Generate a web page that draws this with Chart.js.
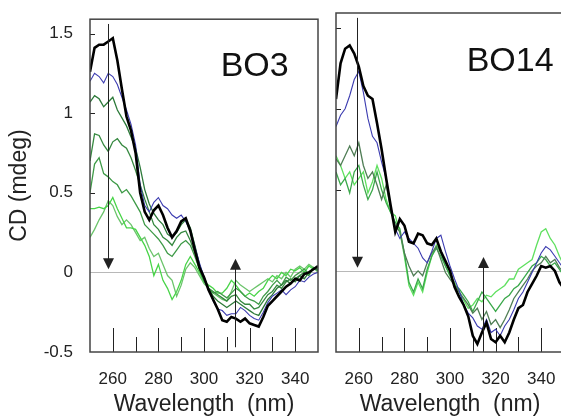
<!DOCTYPE html>
<html>
<head>
<meta charset="utf-8">
<script src="https://cdn.jsdelivr.net/npm/chart.js@4.4.1/dist/chart.umd.min.js"></script>
<style>
  html, body { margin: 0; padding: 0; background: #fff; overflow: hidden; }
  #wrap { position: relative; width: 561px; height: 419px; overflow: hidden; }
  #c1 { position: absolute; left: 0; top: 0; width: 330px; height: 419px; }
  #c2 { position: absolute; left: 326px; top: 0; width: 250px; height: 419px; }
</style>
</head>
<body>
<div id="wrap">
  <canvas id="c1" width="330" height="419"></canvas>
  <canvas id="c2" width="250" height="419"></canvas>
</div>
<script>
// wavelength axis (nm)
const wavelengths = [250,252,254,256,258,260,262,264,266,268,270,272,274,276,278,280,282,284,286,288,290,
  292,294,296,298,300,302,304,306,308,310,312,314,316,318,320,322,324,326,328,330,
  332,334,336,338,340,342,344,346,348,350];

const xTicks = [260, 280, 300, 320, 340];
const xMinorTicks = [270, 290, 310, 330];
const yTicks = [-0.5, 0, 0.5, 1, 1.5];

// BO3 panel (CD, mdeg)
const bo3Black = [1.26,1.41,1.43,1.43,1.45,1.47, 1.33,1.15,0.98,0.89,0.75, 0.5,0.38,0.33,0.39,0.42, 0.36,0.28,0.22,0.26,0.32,
  0.34,0.26,0.14,0.03,-0.03, -0.11,-0.17,-0.23,-0.3,-0.31, -0.28,-0.29,-0.31,-0.29,-0.32, -0.33,-0.34,-0.28,-0.21,-0.18,
  -0.15,-0.12,-0.09,-0.07,-0.04, -0.05,-0.01,0.0,0.02,0.04];
const bo3Blue = [1.2,1.25,1.23,1.19,1.25,1.23, 1.18,1.1,1.02,0.93,0.8, 0.55,0.42,0.38,0.44,0.47, 0.42,0.4,0.36,0.34,0.36,
  0.32,0.26,0.16,0.06,-0.03, -0.11,-0.18,-0.23,-0.24,-0.27, -0.26,-0.26,-0.22,-0.24,-0.27, -0.29,-0.3,-0.25,-0.19,-0.15,
  -0.13,-0.11,-0.14,-0.11,-0.09, -0.05,-0.06,-0.03,-0.01,0.0];
const bo3Green1 = [1.07,1.11,1.09,1.04,1.07,1.1, 1.02,0.97,0.92,0.85,0.78, 0.66,0.52,0.43,0.37,0.33, 0.3,0.24,0.22,0.25,0.3,
  0.33,0.28,0.17,0.05,-0.03, -0.1,-0.15,-0.18,-0.2,-0.22, -0.2,-0.18,-0.2,-0.22,-0.24, -0.26,-0.27,-0.22,-0.17,-0.14,
  -0.1,-0.08,-0.05,-0.07,-0.04, -0.02,-0.04,0.0,0.02,0.02];
const bo3Green2 = [0.7,0.87,0.86,0.8,0.76,0.82, 0.84,0.8,0.78,0.72,0.64, 0.55,0.46,0.38,0.3,0.27, 0.22,0.2,0.17,0.22,0.25,
  0.26,0.2,0.12,0.02,-0.05, -0.1,-0.12,-0.14,-0.16,-0.18, -0.15,-0.14,-0.18,-0.2,-0.2, -0.23,-0.22,-0.18,-0.14,-0.12,
  -0.08,-0.1,-0.06,-0.04,-0.06, -0.02,0.0,-0.02,0.03,0.01];
const bo3Green3 = [0.5,0.68,0.72,0.62,0.6,0.57, 0.55,0.5,0.52,0.48,0.43, 0.38,0.3,0.27,0.24,0.21, 0.17,0.12,0.1,0.14,0.18,
  0.2,0.17,0.1,0.02,-0.05, -0.1,-0.13,-0.12,-0.14,-0.16, -0.13,-0.1,-0.12,-0.15,-0.17, -0.18,-0.2,-0.15,-0.12,-0.08,
  -0.05,-0.08,-0.03,-0.05,-0.02, 0.0,0.02,-0.01,0.03,0.02];
const bo3Green4 = [0.4,0.4,0.41,0.4,0.42,0.47, 0.4,0.34,0.28,0.28,0.27, 0.22,0.17,0.1,-0.02,0.05, -0.05,-0.1,-0.17,-0.12,-0.05,
  0.05,0.1,0.05,0.0,-0.06, -0.08,-0.1,-0.13,-0.13,-0.1, -0.05,-0.08,-0.12,-0.15,-0.13, -0.15,-0.12,-0.1,-0.05,-0.02,
  -0.04,0.0,-0.02,0.02,0.01, 0.03,0.0,0.04,0.02,0.03];
const bo3Green5 = [0.22,0.27,0.33,0.38,0.45,0.42, 0.35,0.3,0.33,0.3,0.25, 0.2,0.22,0.15,0.1,0.12, 0.05,-0.02,-0.05,-0.15,-0.08,
  0.02,0.06,0.03,-0.02,-0.07, -0.1,-0.13,-0.15,-0.17,-0.18, -0.12,-0.05,-0.08,-0.1,-0.12, -0.1,-0.08,-0.06,-0.04,-0.06,
  -0.02,-0.04,0.0,-0.03,0.02, 0.04,0.02,0.05,0.03,0.0];

// BO14 panel (CD, mdeg)
const bo14Black = [1.06,1.28,1.37,1.39,1.34,1.26, 1.14,1.08,1.06,0.91,0.75, 0.57,0.4,0.24,0.32,0.28, 0.18,0.17,0.23,0.22,0.17,
  0.16,0.2,0.12,0.06,0.0, -0.1,-0.16,-0.21,-0.28,-0.4, -0.45,-0.38,-0.32,-0.42,-0.44, -0.4,-0.44,-0.38,-0.3,-0.23,
  -0.21,-0.13,-0.08,-0.03,0.03, 0.02,0.03,0.0,-0.07,-0.11];
const bo14Blue = [0.89,0.96,1.0,1.08,1.18,1.23, 1.1,0.94,0.83,0.79,0.67, 0.57,0.4,0.26,0.2,0.24, 0.2,0.17,0.14,0.08,0.05,
  0.12,0.2,0.22,0.12,0.03, -0.05,-0.12,-0.21,-0.26,-0.29, -0.34,-0.36,-0.3,-0.38,-0.36, -0.4,-0.34,-0.3,-0.24,-0.17,
  -0.13,-0.07,-0.01,0.05,0.11, 0.15,0.13,0.09,0.05,0.01];
const bo14Green1 = [0.69,0.65,0.71,0.77,0.71,0.79, 0.65,0.57,0.61,0.53,0.44, 0.53,0.38,0.28,0.24,0.11, 0.03,-0.03,0.0,-0.03,0.05,
  0.11,0.15,0.07,-0.01,-0.05, -0.09,-0.13,-0.17,-0.21,-0.26, -0.23,-0.3,-0.25,-0.33,-0.3, -0.35,-0.3,-0.24,-0.17,-0.13,
  -0.09,-0.05,0.0,0.03,0.05, 0.09,0.05,0.07,0.02,-0.01];
const bo14Green2 = [0.61,0.53,0.57,0.48,0.61,0.65, 0.53,0.44,0.5,0.61,0.5, 0.42,0.36,0.3,0.26,0.11, -0.07,-0.13,-0.05,-0.11,0.01,
  0.09,0.14,0.09,0.03,-0.03, -0.09,-0.11,-0.15,-0.19,-0.25, -0.19,-0.13,-0.17,-0.21,-0.25, -0.21,-0.17,-0.15,-0.11,-0.09,
  -0.05,-0.01,0.03,0.05,0.09, 0.07,0.03,0.05,0.01,-0.03];
const bo14Green3 = [0.71,0.65,0.57,0.61,0.53,0.57, 0.61,0.48,0.55,0.65,0.57, 0.44,0.36,0.34,0.24,0.09, -0.09,-0.15,-0.07,-0.13,-0.01,
  0.09,0.16,0.11,0.03,-0.03, -0.07,-0.13,-0.18,-0.23,-0.21, -0.17,-0.19,-0.15,-0.16,-0.13, -0.11,-0.09,-0.05,-0.05,0.01,
  0.03,0.05,0.07,0.16,0.24, 0.26,0.2,0.16,0.09,0.03];

// arrows: wavelength, from CD, to CD
const bo3Arrows = [[258, 1.56, 0.02], [313.5, -0.47, 0.085]];
const bo14Arrows = [[259.2, 1.56, 0.02], [314.6, -0.5, 0.085]];

const FONT = "'Liberation Sans', Arial, sans-serif";

function pts(values) {
    return values.map((v, i) => ({ x: wavelengths[i], y: v }));
}

function line(values, color, width) {
    return {
        data: pts(values),
        borderColor: color,
        borderWidth: width,
        pointRadius: 0,
        tension: 0,
        fill: false
    };
}

// frame, inward ticks, zero line, arrows and panel name
const decor = {
    id: 'decor',
    beforeDatasetsDraw(chart, args, opts) {
        const { ctx, chartArea: a, scales: { x, y } } = chart;
        ctx.save();
        const y0 = Math.round(y.getPixelForValue(0)) + 0.5;
        ctx.strokeStyle = '#b8b8b8';
        ctx.lineWidth = 1;
        ctx.beginPath();
        ctx.moveTo(a.left, y0);
        ctx.lineTo(a.right, y0);
        ctx.stroke();

        ctx.strokeStyle = '#222';
        ctx.beginPath();
        xTicks.forEach(v => {
            const px = Math.round(x.getPixelForValue(v)) + 0.5;
            ctx.moveTo(px, a.bottom);
            ctx.lineTo(px, a.bottom - 24);
        });
        xMinorTicks.forEach(v => {
            const px = Math.round(x.getPixelForValue(v)) + 0.5;
            ctx.moveTo(px, a.bottom);
            ctx.lineTo(px, a.bottom - 15);
        });
        [0.5, 1, 1.5].forEach(v => {
            const py = Math.round(y.getPixelForValue(v)) + 0.5;
            ctx.moveTo(a.left, py);
            ctx.lineTo(a.left + 5, py);
        });
        ctx.stroke();
        ctx.restore();
    },
    afterDatasetsDraw(chart, args, opts) {
        const { ctx, chartArea: a, scales: { x, y } } = chart;
        ctx.save();
        ctx.strokeStyle = '#222';
        ctx.fillStyle = '#222';
        ctx.lineWidth = 1;
        opts.arrows.forEach(([w, from, to]) => {
            const px = Math.round(x.getPixelForValue(w)) + 0.5;
            const p1 = y.getPixelForValue(from);
            const p2 = y.getPixelForValue(to);
            const dir = p2 > p1 ? 1 : -1;
            ctx.beginPath();
            ctx.moveTo(px, p1);
            ctx.lineTo(px, p2 - dir * 10);
            ctx.stroke();
            ctx.beginPath();
            ctx.moveTo(px, p2);
            ctx.lineTo(px - 5.5, p2 - dir * 11);
            ctx.lineTo(px + 5.5, p2 - dir * 11);
            ctx.closePath();
            ctx.fill();
        });

        ctx.strokeStyle = '#444';
        ctx.lineWidth = 1.5;
        ctx.strokeRect(a.left, a.top, a.right - a.left, a.bottom - a.top);

        ctx.fillStyle = '#111';
        ctx.font = '34px ' + FONT;
        ctx.textAlign = 'left';
        ctx.textBaseline = 'alphabetic';
        ctx.fillText(opts.label, x.getPixelForValue(307.3), y.getPixelForValue(1.235));
        ctx.restore();
    }
};

function makeChart(id, datasets, label, arrows, showY) {
    return new Chart(document.getElementById(id), {
        type: 'line',
        data: { datasets: datasets },
        options: {
            responsive: false,
            animation: false,
            layout: { padding: { top: 13, right: 12, left: 0, bottom: 0 } },
            plugins: {
                legend: { display: false },
                tooltip: { enabled: false },
                decor: { label: label, arrows: arrows }
            },
            scales: {
                x: {
                    type: 'linear',
                    min: 250,
                    max: 350,
                    afterBuildTicks: s => { s.ticks = xTicks.map(v => ({ value: v })); },
                    afterFit: s => { s.height = 67; },
                    grid: { display: false },
                    border: { display: false },
                    ticks: { color: '#222', padding: 9, font: { family: FONT, size: 17 }, maxRotation: 0 },
                    title: {
                        display: true,
                        text: 'Wavelength  (nm)',
                        color: '#222',
                        font: { family: FONT, size: 23 },
                        padding: { top: 0, bottom: 1 }
                    }
                },
                y: {
                    min: -0.5,
                    max: 1.59,
                    afterBuildTicks: s => { s.ticks = yTicks.map(v => ({ value: v })); },
                    afterFit: s => { s.width = showY ? 90 : 10; },
                    grid: { display: false },
                    border: { display: false },
                    ticks: {
                        display: showY,
                        color: '#222',
                        padding: 9,
                        font: { family: FONT, size: 17 },
                        callback: v => String(v)
                    },
                    title: {
                        display: showY,
                        text: 'CD (mdeg)',
                        color: '#222',
                        font: { family: FONT, size: 23 },
                        padding: { top: 6, bottom: 0 }
                    }
                }
            }
        },
        plugins: [decor]
    });
}

makeChart('c1', [
    line(bo3Black, '#000000', 2.6),
    line(bo3Blue, '#3b3bb0', 1.1),
    line(bo3Green1, '#2d7a3a', 1.3),
    line(bo3Green2, '#35883f', 1.3),
    line(bo3Green3, '#3e9a47', 1.3),
    line(bo3Green4, '#48d448', 1.3),
    line(bo3Green5, '#6cc46c', 1.3)
], 'BO3', bo3Arrows, true);

makeChart('c2', [
    line(bo14Black, '#000000', 2.6),
    line(bo14Blue, '#3b3bb0', 1.1),
    line(bo14Green1, '#4f7d55', 1.3),
    line(bo14Green2, '#3aa84a', 1.3),
    line(bo14Green3, '#5fe05f', 1.3)
], 'BO14', bo14Arrows, false);
</script>
</body>
</html>
